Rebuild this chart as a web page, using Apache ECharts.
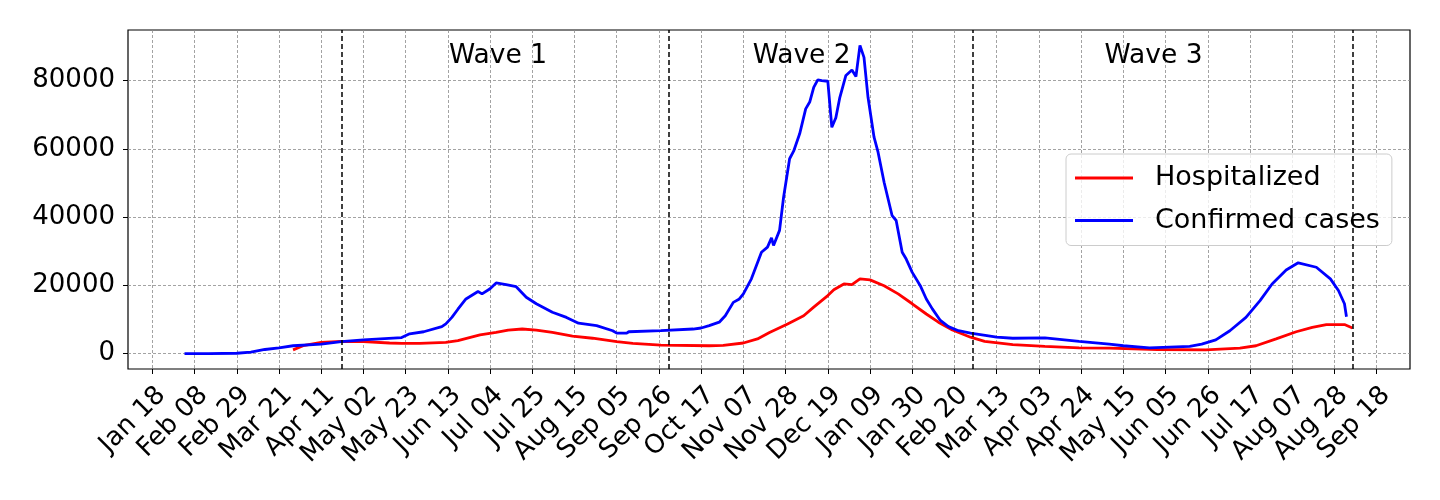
<!DOCTYPE html>
<html>
<head>
<meta charset="utf-8">
<script src="https://cdn.jsdelivr.net/npm/echarts@6/dist/echarts.min.js"></script>
<style>
  html, body { margin: 0; padding: 0; background: #fff; }
  #chart { width: 1440px; height: 500px; }
</style>
</head>
<body>
<div id="chart"></div>
<script>
// x ticks every 3 weeks, starting Jan 18 2020
const tickLabels = ['Jan 18', 'Feb 08', 'Feb 29', 'Mar 21', 'Apr 11', 'May 02', 'May 23', 'Jun 13',
  'Jul 04', 'Jul 25', 'Aug 15', 'Sep 05', 'Sep 26', 'Oct 17', 'Nov 07', 'Nov 28', 'Dec 19',
  'Jan 09', 'Jan 30', 'Feb 20', 'Mar 13', 'Apr 03', 'Apr 24', 'May 15', 'Jun 05', 'Jun 26',
  'Jul 17', 'Aug 07', 'Aug 28', 'Sep 18'];
const yTicks = [0, 20000, 40000, 60000, 80000];

const hospDates = ['2020-03-28', '2020-04-02', '2020-04-11', '2020-04-21', '2020-05-02', '2020-05-15',
  '2020-05-21', '2020-05-30', '2020-06-12', '2020-06-18', '2020-06-29', '2020-07-07', '2020-07-13',
  '2020-07-20', '2020-07-27', '2020-08-04', '2020-08-14', '2020-08-24', '2020-09-05', '2020-09-13',
  '2020-09-27', '2020-10-21', '2020-10-28', '2020-11-07', '2020-11-14', '2020-11-20', '2020-11-29',
  '2020-12-07', '2020-12-12', '2020-12-19', '2020-12-22', '2020-12-27', '2020-12-31', '2021-01-04',
  '2021-01-09', '2021-01-16', '2021-01-23', '2021-01-30', '2021-02-06', '2021-02-12', '2021-02-19',
  '2021-02-28', '2021-03-07', '2021-03-21', '2021-04-06', '2021-04-23', '2021-05-08', '2021-06-01',
  '2021-06-25', '2021-07-12', '2021-07-20', '2021-07-30', '2021-08-09', '2021-08-17', '2021-08-24',
  '2021-09-02', '2021-09-06'];
const hospValues = [1100, 2300, 3300, 3600, 3500, 3100,
  3000, 3000, 3300, 3800, 5500, 6200, 6900,
  7200, 6900, 6200, 5100, 4500, 3500, 3000,
  2500, 2300, 2400, 3100, 4300, 6200, 8700,
  11100, 13600, 17000, 18700, 20400, 20200, 21900,
  21600, 19900, 17500, 14600, 11600, 9200, 6900,
  4800, 3600, 2600, 2100, 1700, 1600, 1200,
  1100, 1600, 2300, 4300, 6400, 7700, 8500,
  8500, 7500];

const caseDates = ['2020-02-03', '2020-02-15', '2020-02-29', '2020-03-07', '2020-03-14', '2020-03-21',
  '2020-03-28', '2020-04-11', '2020-04-21', '2020-05-02', '2020-05-21', '2020-05-25', '2020-06-01',
  '2020-06-10', '2020-06-12', '2020-06-15', '2020-06-18', '2020-06-22', '2020-06-28', '2020-06-30',
  '2020-07-04', '2020-07-07', '2020-07-12', '2020-07-17', '2020-07-22', '2020-07-27', '2020-08-04',
  '2020-08-11', '2020-08-17', '2020-08-26', '2020-09-03', '2020-09-05', '2020-09-10', '2020-09-11',
  '2020-09-27', '2020-10-13', '2020-10-17', '2020-10-21', '2020-10-26', '2020-10-29', '2020-11-02',
  '2020-11-05', '2020-11-07', '2020-11-11', '2020-11-16', '2020-11-19', '2020-11-21', '2020-11-22',
  '2020-11-25', '2020-11-27', '2020-11-30', '2020-12-02', '2020-12-05', '2020-12-08', '2020-12-10',
  '2020-12-12', '2020-12-14', '2020-12-16', '2020-12-19', '2020-12-21', '2020-12-23', '2020-12-25',
  '2020-12-28', '2020-12-31', '2021-01-02', '2021-01-04', '2021-01-06', '2021-01-08', '2021-01-11',
  '2021-01-13', '2021-01-16', '2021-01-20', '2021-01-22', '2021-01-25', '2021-01-27', '2021-01-30',
  '2021-02-03', '2021-02-06', '2021-02-09', '2021-02-13', '2021-02-17', '2021-02-22', '2021-02-28',
  '2021-03-13', '2021-03-21', '2021-04-06', '2021-04-23', '2021-05-08', '2021-05-15', '2021-05-28',
  '2021-06-17', '2021-06-23', '2021-06-30', '2021-07-07', '2021-07-15', '2021-07-22', '2021-07-28',
  '2021-08-04', '2021-08-10', '2021-08-19', '2021-08-26', '2021-08-30', '2021-09-02', '2021-09-03'];
const caseValues = [0, 0, 100, 400, 1200, 1700,
  2300, 2800, 3500, 4000, 4700, 5800, 6400,
  7900, 8700, 10600, 13000, 16000, 18200, 17500,
  19000, 20700, 20200, 19600, 16500, 14600, 12100,
  10600, 8900, 8200, 6700, 6000, 6000, 6400,
  6700, 7200, 7500, 8200, 9200, 11100, 15000,
  16000, 17500, 21900, 29700, 31200, 33900, 31700,
  36100, 45800, 57100, 59300, 64400, 71700, 73700,
  78000, 80200, 80000, 79800, 66300, 69100, 75100,
  81500, 83100, 81200, 90300, 86800, 75100, 63400,
  59000, 50200, 40400, 39000, 29700, 27700, 23800,
  19900, 16000, 13100, 9700, 7900, 6700, 6000,
  4800, 4500, 4600, 3600, 2800, 2300, 1700,
  2100, 2800, 4000, 6700, 10600, 15500, 20400,
  24500, 26600, 25300, 21900, 18500, 14600, 10800];

// wave boundaries and labels
const waveBounds = ['2020-04-21', '2020-10-01', '2021-03-01', '2021-09-06'];
const waveNames = ['Wave 1', 'Wave 2', 'Wave 3'];
const waveLabelDates = ['2020-07-08', '2020-12-06', '2021-05-30'];
const waveLabelY = 87300;

const ORIGIN = Date.UTC(2020, 0, 18);
function day(s) {
    const p = s.split('-').map(Number);
    return (Date.UTC(p[0], p[1] - 1, p[2]) - ORIGIN) / 86400000;
}
const tickDays = tickLabels.map((_, i) => i * 21);

const FONT = 'DejaVu Sans';
const chart = echarts.init(document.getElementById('chart'));

const option = {
    animation: false,
    textStyle: { fontFamily: FONT },
    grid: {
        left: 128, right: 30, top: 30, bottom: 131,
        containLabel: false,
        outerBoundsMode: 'none',
        show: true,
        borderColor: '#000',
        borderWidth: 1.2,
        backgroundColor: 'transparent'
    },
    legend: {
        orient: 'vertical',
        left: 1066,
        top: 154,
        padding: [9, 12, 10, 9],
        itemGap: 12.5,
        itemWidth: 58,
        itemHeight: 2.8,
        icon: 'rect',
        backgroundColor: 'rgba(255,255,255,0.8)',
        borderColor: '#cccccc',
        borderWidth: 1,
        borderRadius: 5,
        textStyle: { fontFamily: FONT, fontSize: 27, color: '#000', lineHeight: 30, padding: [0, 0, 0, 17] },
        data: ['Hospitalized', 'Confirmed cases']
    },
    xAxis: {
        type: 'value',
        min: -12.1,
        max: 625.6,
        axisLine: { show: false, onZero: false },
        axisTick: {
            show: true, inside: false, length: 5,
            customValues: tickDays,
            lineStyle: { color: '#000', width: 1 }
        },
        axisLabel: {
            customValues: tickDays,
            rotate: 45,
            margin: 13,
            verticalAlign: 'top',
            fontSize: 26,
            fontFamily: FONT,
            color: '#000',
            formatter: v => tickLabels[Math.round(v / 21)]
        },
        splitLine: {
            show: true,
            lineStyle: { color: '#8c8c8c', width: 0.8, type: [3, 2] }
        }
    },
    yAxis: {
        type: 'value',
        min: -4515,
        max: 94815,
        axisLine: { show: false, onZero: false },
        axisTick: {
            show: true, inside: false, length: 5,
            customValues: yTicks,
            lineStyle: { color: '#000', width: 1 }
        },
        axisLabel: {
            customValues: yTicks,
            margin: 13,
            fontSize: 26,
            fontFamily: FONT,
            color: '#000',
            formatter: v => String(v)
        },
        splitLine: {
            show: true,
            lineStyle: { color: '#8c8c8c', width: 0.8, type: [3, 2] }
        }
    },
    series: [
        {
            name: 'Hospitalized',
            type: 'line',
            symbol: 'none',
            color: '#ff0000',
            lineStyle: { color: '#ff0000', width: 2.8 },
            data: hospDates.map((d, i) => [day(d), hospValues[i]]),
            markLine: {
                silent: true,
                symbol: ['none', 'none'],
                label: { show: false },
                lineStyle: { color: '#000', width: 1.5, type: [5, 3] },
                data: waveBounds.map(d => ({ xAxis: day(d) }))
            }
        },
        {
            name: 'Confirmed cases',
            type: 'line',
            symbol: 'none',
            color: '#0000ff',
            lineStyle: { color: '#0000ff', width: 2.8 },
            data: caseDates.map((d, i) => [day(d), caseValues[i]]),
            markPoint: {
                silent: true,
                symbol: 'circle',
                symbolSize: 1,
                itemStyle: { color: 'rgba(0,0,0,0)' },
                label: {
                    show: true,
                    position: 'inside',
                    formatter: '{b}',
                    fontFamily: FONT,
                    fontSize: 26.5,
                    color: '#000'
                },
                data: waveNames.map((n, i) => ({ name: n, coord: [day(waveLabelDates[i]), waveLabelY] }))
            }
        }
    ]
};

chart.setOption(option);
</script>
</body>
</html>
